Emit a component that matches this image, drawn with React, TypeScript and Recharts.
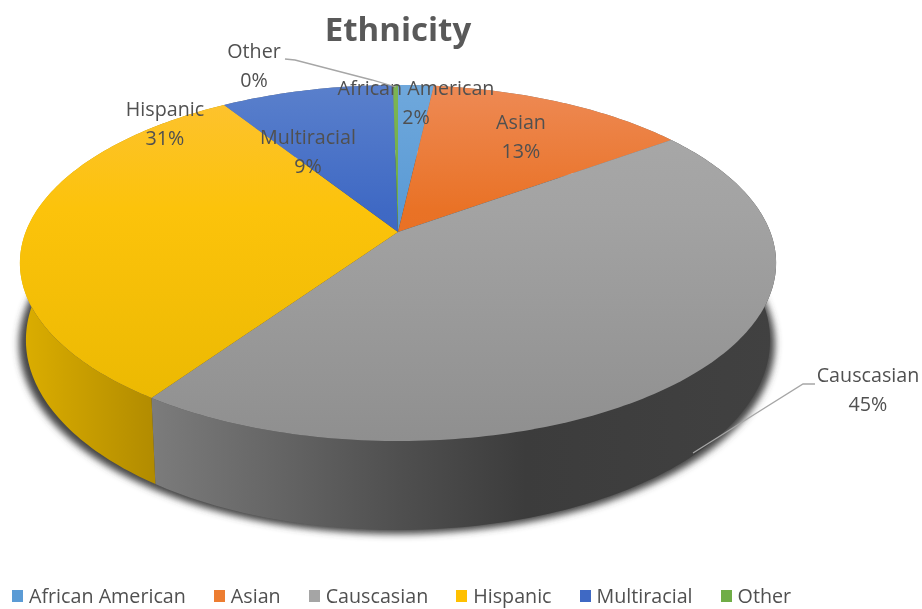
import { Legend, Pie, PieChart } from 'recharts'

const names = ['African American', 'Asian', 'Causcasian', 'Hispanic', 'Multiracial', 'Other']
const shares = [1.8, 13.2, 44.6, 31.4, 8.75, 0.25]

const topLight = ['#6fa8dc', '#ee8a55', '#aaaaaa', '#fdc233', '#5a80cc', '#7cb552']
const topMid = ['#5b9bd5', '#e97226', '#a3a3a3', '#fcc30b', '#3f69c4', '#70ad47']
const topDark = ['#4f95d2', '#e56a1a', '#8f8f8f', '#e8b700', '#2f60bd', '#66a63c']
const legendColors = ['#5b9bd5', '#ed7d31', '#a5a5a5', '#ffc000', '#3f69c4', '#70ad47']

const data = names.map((name, i) => ({ name, value: shares[i] }))

// perspective: the tip of the pie is above the middle of the rim ellipse
const TIP_X = 398
const TIP_Y = 232
const SKEW = 0.174
const TOP_RIM = { midY: 263, rx: 378, ry: 178 }
const BOTTOM_RIM = { midY: 340, rx: 372, ry: 190 }

const FONT = '"Open Sans", "Noto Sans", sans-serif'
const TEXT = '#505050'
const LABEL_SIZE = 19.7

const rimPoint = (deg: number, rim: { midY: number; rx: number; ry: number }) => {
  const a = (deg * Math.PI) / 180
  const d = 1 + SKEW * Math.cos(a)
  const x = (rim.rx * 0.985 * Math.sin(a)) / d
  const y = (-rim.ry * Math.cos(a) - rim.ry * SKEW) / d
  return [TIP_X + x, rim.midY + y]
}

const arc = (from: number, to: number, rim: typeof TOP_RIM) => {
  const out: string[] = []
  const steps = Math.max(2, Math.ceil(Math.abs(to - from)))
  for (let s = 0; s <= steps; s++) {
    const p = rimPoint(from + ((to - from) * s) / steps, rim)
    out.push(p[0].toFixed(2) + ' ' + p[1].toFixed(2))
  }
  return out
}

const TopSlice = (props: any) => {
  const from = 90 - props.startAngle
  const to = 90 - props.endAngle
  const d = `M${TIP_X} ${TIP_Y}L` + arc(from, to, TOP_RIM).join('L') + 'Z'
  return <path d={d} fill={`url(#top-${props.index})`} />
}

const WallSlice = (props: any) => {
  const from = 90 - props.startAngle
  const to = 90 - props.endAngle
  const d = 'M' + arc(from, to, TOP_RIM).concat(arc(to, from, BOTTOM_RIM)).join('L') + 'Z'
  const fill = props.index === 2 ? 'url(#wall-gray)' : props.index === 3 ? 'url(#wall-gold)' : '#777'
  return <path d={d} fill={fill} />
}

const labelAt: Record<string, [number, number]> = {
  'African American': [416, 88],
  Asian: [521, 122],
  Causcasian: [868, 375],
  Hispanic: [165, 109],
  Multiracial: [308, 137],
  Other: [254, 51],
}

const leaders: Record<string, string> = {
  Other: '285,59 295,60 372,80 396,87',
  Causcasian: '815,384 803,384 693,453',
}

const SliceLabel = (props: any) => {
  const [x, y] = labelAt[props.name]
  return (
    <g fontFamily={FONT} fontSize={LABEL_SIZE} fill={TEXT} textAnchor="middle">
      {leaders[props.name] && <polyline points={leaders[props.name]} fill="none" stroke="#a6a6a6" strokeWidth={1.3} />}
      <text x={x} y={y + 7}>{props.name}</text>
      <text x={x} y={y + 36}>{Math.round(props.percent * 100)}%</text>
    </g>
  )
}

const LegendRow = () => (
  <div style={{ display: 'flex', gap: 28, paddingLeft: 12, fontFamily: FONT, fontSize: LABEL_SIZE, lineHeight: '20px', color: TEXT, whiteSpace: 'nowrap' }}>
    {names.map((name, i) => (
      <div key={name} style={{ display: 'flex', alignItems: 'center', gap: 6 }}>
        <span style={{ width: 11, height: 12, background: legendColors[i], display: 'inline-block' }} />
        <span>{name}</span>
      </div>
    ))}
  </div>
)

export default function App() {
  return (
    <div style={{ position: 'absolute', left: 0, top: 0, width: 922, height: 609, overflow: 'hidden', filter: 'blur(0.7px)' }}>
      <PieChart width={922} height={609} margin={{ top: 0, right: 0, bottom: 0, left: 0 }} accessibilityLayer={false}>
        <defs>
          {names.map((name, i) => (
            <linearGradient key={name} id={`top-${i}`} gradientUnits="userSpaceOnUse" x1="0" y1="85" x2="0" y2="441">
              <stop offset="0" stopColor={topLight[i]} />
              <stop offset="0.35" stopColor={topMid[i]} />
              <stop offset="1" stopColor={topDark[i]} />
            </linearGradient>
          ))}
          <linearGradient id="wall-gray" gradientUnits="userSpaceOnUse" x1="150" y1="0" x2="776" y2="0">
            <stop offset="0" stopColor="#7c7c7c" />
            <stop offset="0.4" stopColor="#4f4f4f" />
            <stop offset="0.6" stopColor="#3c3c3c" />
            <stop offset="1" stopColor="#414141" />
          </linearGradient>
          <linearGradient id="wall-gold" gradientUnits="userSpaceOnUse" x1="20" y1="0" x2="160" y2="0">
            <stop offset="0" stopColor="#dcae00" />
            <stop offset="1" stopColor="#b08a00" />
          </linearGradient>
          <filter id="soft" x="-5%" y="-5%" width="110%" height="110%">
            <feGaussianBlur stdDeviation="3.5" />
          </filter>
        </defs>
        <ellipse cx={397} cy={344} rx={378} ry={190} fill="#444" filter="url(#soft)" />
        <Pie
          data={data}
          dataKey="value"
          nameKey="name"
          cx={TIP_X}
          cy={TIP_Y}
          outerRadius={378}
          startAngle={90}
          endAngle={-270}
          shape={WallSlice}
          legendType="none"
          stroke="none"
          isAnimationActive={false}
        />
        <Pie
          data={data}
          dataKey="value"
          nameKey="name"
          cx={TIP_X}
          cy={TIP_Y}
          outerRadius={378}
          startAngle={90}
          endAngle={-270}
          shape={TopSlice}
          label={SliceLabel}
          labelLine={false}
          stroke="none"
          isAnimationActive={false}
        />
        <text x={398} y={41} textAnchor="middle" fontFamily={FONT} fontWeight={700} fontSize={33} fill="#595959">
          Ethnicity
        </text>
        <Legend content={LegendRow} wrapperStyle={{ left: 0, top: 586, width: 922 }} />
      </PieChart>
    </div>
  )
}
